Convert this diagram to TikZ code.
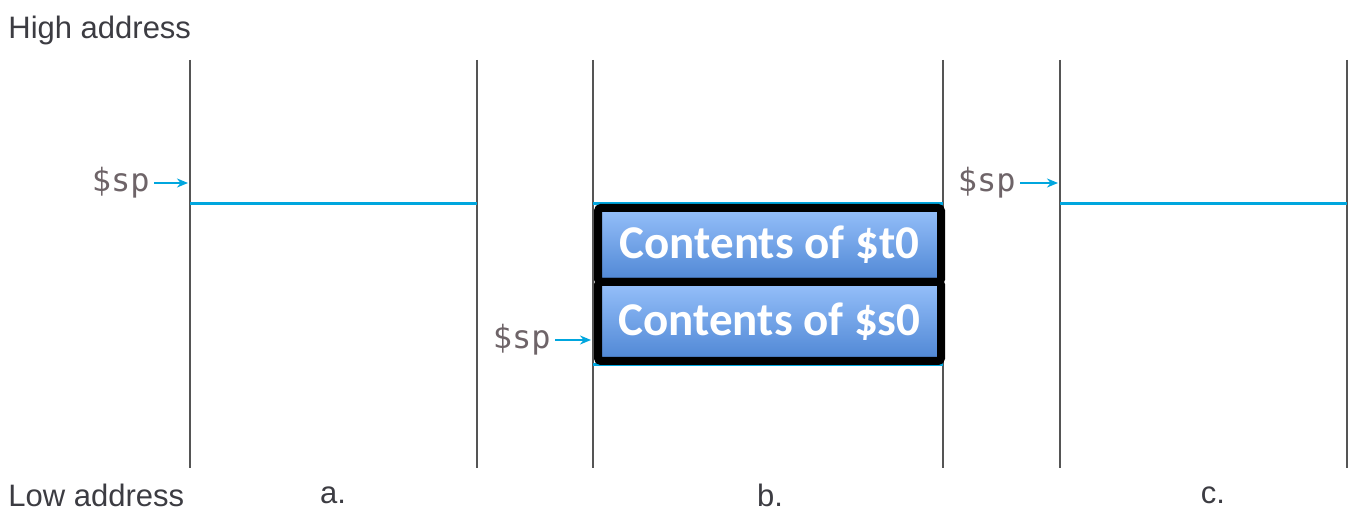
\documentclass[tikz,border=0pt]{standalone}
\usepackage{fontspec}
\setmainfont{Liberation Sans}
\newfontfamily\cellfont{Carlito}
\newfontfamily\regfont{DejaVu Sans Mono}
\usetikzlibrary{positioning,arrows.meta}

\definecolor{spblue}{RGB}{0,166,222}
\definecolor{wallgray}{RGB}{85,85,85}
\definecolor{labelgray}{RGB}{60,60,66}
\definecolor{spgray}{RGB}{110,100,104}
\definecolor{celltop}{RGB}{150,192,250}
\definecolor{cellbot}{RGB}{78,134,212}

\begin{document}
\begin{tikzpicture}[x=0.5pt,y=-0.5pt]
  \useasboundingbox (0,0) rectangle (1367,528);
  \begin{scope}
   % stack walls
   \foreach \x in {190,477,593,943,1060,1347} {
      \draw [wallgray,line width=1.1pt] (\x,60) -- (\x,468);
   }
   % stack top lines
   \foreach \x/\y/\w in {190/204/477,593/204/943,593/365/943,1060/204/1347} {
      \draw [spblue,line width=1.5pt] (\x,\y) -- (\w,\y);
   }
   % saved registers
   \node [draw=black,line width=4pt,rounded corners=1.5pt,top color=celltop,bottom color=cellbot,
          minimum width=171.5pt,minimum height=37pt,inner sep=0,text=white,
          font=\cellfont\bfseries\fontsize{23.5}{23.5}\selectfont] (t0) at (769.5,245) {Contents of \$t0};
   \node [draw=black,line width=4pt,rounded corners=1.5pt,top color=celltop,bottom color=cellbot,
          minimum width=171.5pt,minimum height=39.5pt,inner sep=0,text=white,
          font=\cellfont\bfseries\fontsize{23.5}{23.5}\selectfont] (s0) at (769.5,321.5) {Contents of \$s0};
   % stack pointers
   \foreach \n/\x/\y/\t in {a/150/183/188,b/551/340/591,c/1016/183/1058} {
      \node [anchor=east,inner sep=0,text=spgray,font=\regfont\fontsize{16}{16}\selectfont] (sp\n) at (\x,\y) {\$sp};
      \coordinate (top\n) at (\t,\y);
      \draw [->,>={Stealth[length=5.5pt,width=4.5pt]},shorten <=2pt,spblue,line width=1.3pt] (sp\n.east) -- (top\n);
   }
   % labels
   \node [anchor=west,inner sep=0,text=labelgray,font=\fontsize{15.5}{15.5}\selectfont] (high) at (8,30) {High address};
   \node [anchor=west,inner sep=0,text=labelgray,font=\fontsize{15.5}{15.5}\selectfont] (low) at (8,495) {Low address};
   \foreach \n/\x in {a/333,b/770,c/1213} {
      \node [inner sep=0,text=labelgray,font=\fontsize{15.5}{15.5}\selectfont] (lbl\n) at (\x,495) {\n.};
   }
  \end{scope}
\end{tikzpicture}
\end{document}
